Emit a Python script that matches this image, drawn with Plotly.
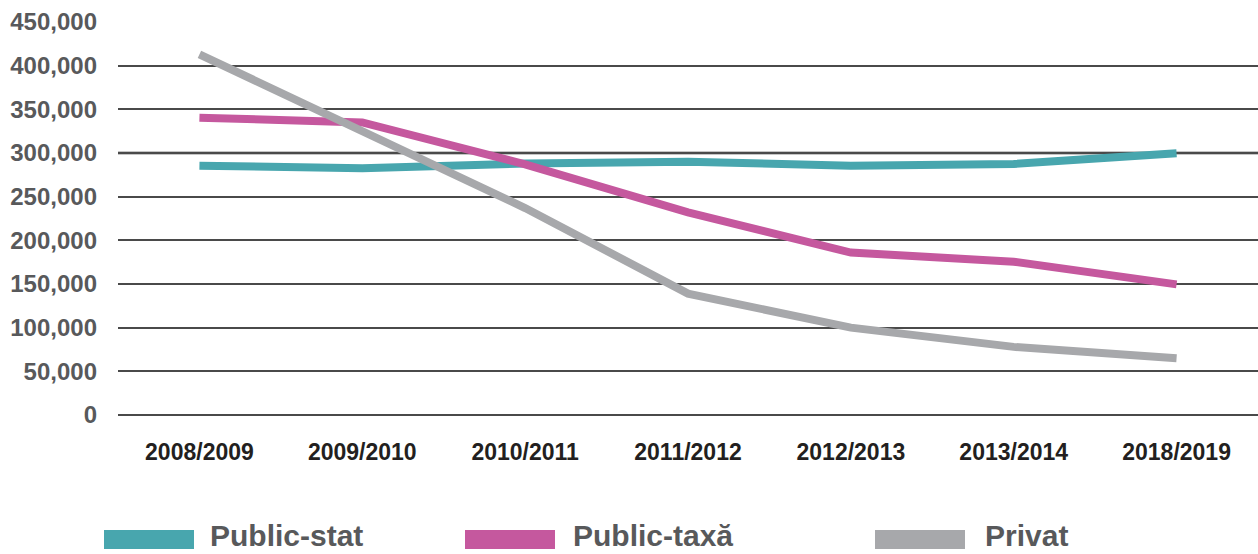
import plotly.graph_objects as go

years = ["2008/2009", "2009/2010", "2010/2011", "2011/2012", "2012/2013", "2013/2014", "2018/2019"]
public_stat = [285500, 282500, 288000, 290000, 285500, 287500, 299600]
public_taxa = [340500, 335000, 287000, 232000, 186000, 175500, 149600]
privat = [413000, 325000, 237000, 139000, 100000, 78000, 65000]

series_names = ["Public-stat", "Public-taxă", "Privat"]
series_colors = ["#48a6ae", "#c5589e", "#a7a8ab"]
series_values = [public_stat, public_taxa, privat]

W, H = 1258, 554
ML, MR, MT, MB = 118, 0, 22, 139
PW, PH = W - ML - MR, H - MT - MB

fig = go.Figure()
for name, color, vals in zip(series_names, series_colors, series_values):
    fig.add_trace(go.Scatter(x=years, y=vals, name=name, mode="lines",
                             line=dict(color=color, width=8), showlegend=False))

def px_x(p):
    return (p - ML) / PW

def px_y(p):
    return (H - MB - p) / PH

shapes = [dict(type="line", xref="paper", yref="y", x0=0, x1=1, y0=300000, y1=300000,
               line=dict(color="#1a1a1a", width=2.5), layer="below")]
annotations = []
legend_rects = [(104, 194), (465, 555), (875, 965)]
legend_text_x = [208, 571, 983]
for (x0, x1), tx, name, color in zip(legend_rects, legend_text_x, series_names, series_colors):
    shapes.append(dict(type="rect", xref="paper", yref="paper",
                       x0=px_x(x0), x1=px_x(x1), y0=px_y(549), y1=px_y(530),
                       fillcolor=color, line=dict(width=0)))
    annotations.append(dict(xref="paper", yref="paper", x=px_x(tx), y=px_y(535),
                            xanchor="left", yanchor="middle", showarrow=False,
                            text="<b>%s</b>" % name,
                            font=dict(family="Liberation Sans, Arial, sans-serif", size=30, color="#58595b")))

fig.update_layout(
    width=W, height=H,
    margin=dict(l=ML, r=MR, t=MT, b=MB, autoexpand=False),
    paper_bgcolor="white", plot_bgcolor="white",
    shapes=shapes, annotations=annotations,
    xaxis=dict(type="category", range=[-0.5, 6.5], showgrid=False, zeroline=False,
               showline=False, ticks="", ticklabelstandoff=21,
               tickfont=dict(family="Liberation Sans, Arial, sans-serif", size=23, color="#231f20", weight="bold")),
    yaxis=dict(range=[0, 450000], tickvals=list(range(0, 450001, 50000)),
               tickformat=",d", showgrid=True, gridcolor="#4a4a4a", gridwidth=1.5,
               zeroline=True, zerolinecolor="#4a4a4a", zerolinewidth=1.5,
               showline=False, ticks="", ticklabelstandoff=20,
               tickfont=dict(family="Liberation Sans, Arial, sans-serif", size=24, color="#58595b", weight="bold")),
    showlegend=False,
)

fig.write_html("out.html", config={"displayModeBar": False},
               post_script="document.body.style.margin='0';document.body.style.overflow='hidden';")
